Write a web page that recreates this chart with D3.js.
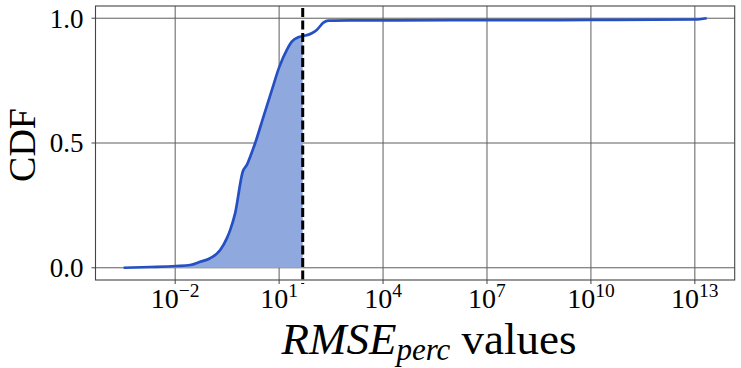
<!DOCTYPE html>
<html><head><meta charset="utf-8">
<script src="https://cdn.jsdelivr.net/npm/d3@7/dist/d3.min.js"></script>
<style>
html,body{margin:0;padding:0;background:#fff;}
text{font-family:"Liberation Serif","Times New Roman",serif;fill:#000;}
</style></head><body>
<svg id="chart" width="741" height="368"></svg>
<script>
// CDF data (RMSE_perc value, cumulative fraction)
const rmseValues = [3.24e-4, 1.91e-3, 1.07e-2, 2.71e-2, 5.25e-2, 0.102, 0.199, 0.309, 0.386, 0.537,
  0.891, 1.17, 1.51, 2.03, 3.52, 6.17, 10.2, 16.7, 23.2, 36.1, 48, 87.7, 122, 190, 263, 1120,
  1e6, 1e10, 1e13, 2.2e13];
const cdfValues = [0, 0.003, 0.007, 0.011, 0.024, 0.038, 0.071, 0.118, 0.151, 0.218,
  0.385, 0.412, 0.45, 0.499, 0.605, 0.712, 0.806, 0.873, 0.906, 0.924, 0.928, 0.94, 0.953, 0.982, 0.99, 0.991,
  0.992, 0.993, 0.995, 1.0];
const threshold = 48;
const xTickExps = [-2, 1, 4, 7, 10, 13];
const yTicks = [0.0, 0.5, 1.0];
const xDomain = [Math.pow(10, -4.3), Math.pow(10, 14.15)];
const yDomain = [-0.049, 1.049];

const lineColor = "#2450c4", fillColor = "#8fa8dd";
const margin = {left: 95.5, right: 734.7, top: 6, bottom: 280};
const svg = d3.select("#chart");
const x = d3.scaleLog().domain(xDomain).range([margin.left, margin.right]);
const y = d3.scaleLinear().domain(yDomain).range([margin.bottom, margin.top]);
const data = rmseValues.map((v, i) => ({v, c: cdfValues[i]}));

// grid
const grid = svg.append("g");
xTickExps.forEach(e => {
  grid.append("line").attr("x1", x(Math.pow(10, e))).attr("x2", x(Math.pow(10, e)))
    .attr("y1", margin.top).attr("y2", margin.bottom).attr("stroke", "#5e5e5e").attr("stroke-width", 1);
});
yTicks.forEach(t => {
  grid.append("line").attr("y1", y(t)).attr("y2", y(t))
    .attr("x1", margin.left).attr("x2", margin.right).attr("stroke", "#5e5e5e").attr("stroke-width", 1);
});

// filled area below threshold
const fillData = data.filter(d => d.v <= threshold);
svg.append("path").datum(fillData)
  .attr("d", d3.area().x(d => x(d.v)).y0(y(0)).y1(d => y(d.c)).curve(d3.curveMonotoneX))
  .attr("fill", fillColor).attr("stroke", "none");

// CDF line
svg.append("path").datum(data)
  .attr("d", d3.line().x(d => x(d.v)).y(d => y(d.c)).curve(d3.curveMonotoneX))
  .attr("fill", "none").attr("stroke", lineColor).attr("stroke-width", 2.7).attr("stroke-linejoin", "round");

// threshold dashed line
svg.append("line").attr("x1", x(threshold)).attr("x2", x(threshold))
  .attr("y1", margin.top + 2).attr("y2", margin.bottom + 4)
  .attr("stroke", "#000").attr("stroke-width", 3).attr("stroke-dasharray", "9,3.5");

// frame
svg.append("rect").attr("x", margin.left).attr("y", margin.top)
  .attr("width", margin.right - margin.left).attr("height", margin.bottom - margin.top)
  .attr("fill", "none").attr("stroke", "#444").attr("stroke-width", 1.1);

// x axis ticks
const xAxis = svg.append("g");
xTickExps.forEach(e => {
  const px = x(Math.pow(10, e));
  xAxis.append("line").attr("x1", px).attr("x2", px).attr("y1", margin.bottom).attr("y2", margin.bottom + 4)
    .attr("stroke", "#444").attr("stroke-width", 1);
  const t = xAxis.append("text").attr("x", px).attr("y", 308).attr("text-anchor", "middle").style("font-size", "28px");
  t.append("tspan").text("10");
  t.append("tspan").attr("dy", -11).style("font-size", "19.5px").text(e < 0 ? "\u2212" + (-e) : String(e));
});

// y axis ticks
const yAxis = svg.append("g");
yTicks.forEach(v => {
  yAxis.append("line").attr("x1", margin.left - 4).attr("x2", margin.left).attr("y1", y(v)).attr("y2", y(v))
    .attr("stroke", "#444").attr("stroke-width", 1);
  yAxis.append("text").attr("x", margin.left - 12).attr("y", y(v)).attr("dy", "0.35em")
    .attr("text-anchor", "end").style("font-size", "27px").text(d3.format(".1f")(v));
});

// axis labels
svg.append("text").attr("transform", "translate(35,145) rotate(-90)").attr("text-anchor", "middle")
  .style("font-size", "38px").text("CDF");
const xl = svg.append("text").attr("x", 429).attr("y", 354).attr("text-anchor", "middle").style("font-size", "45px");
xl.append("tspan").style("font-style", "italic").text("RMSE");
xl.append("tspan").attr("dy", 6).style("font-style", "italic").style("font-size", "31px").text("perc");
xl.append("tspan").attr("dy", -6).text(" values");
</script>
</body></html>
